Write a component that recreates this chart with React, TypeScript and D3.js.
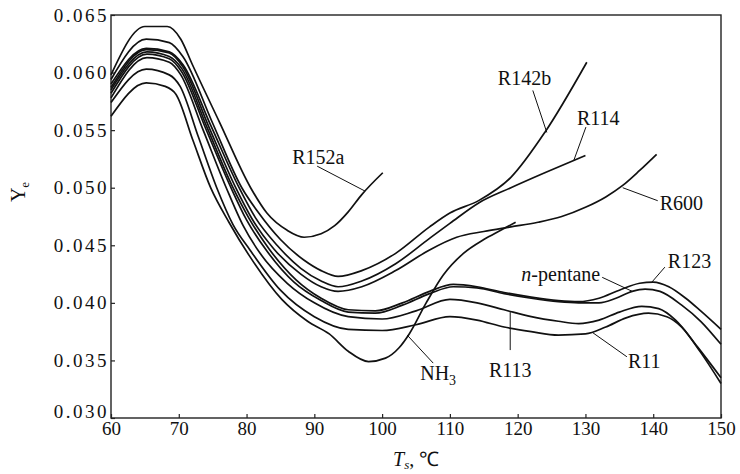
import { useEffect, useRef } from "react";
import * as d3 from "d3";

const W = 740;
const H = 474;
const margin = { top: 15, right: 19, bottom: 56, left: 111 };

const xTicks = [60, 70, 80, 90, 100, 110, 120, 130, 140, 150];
const yTicks = [0.03, 0.035, 0.04, 0.045, 0.05, 0.055, 0.06, 0.065];

// [T_s (°C), Y_e]
const r152a: [number, number][] = [
  [60, 0.0598], [65, 0.064], [68.3, 0.064], [70.3, 0.0629], [72, 0.0607], [76, 0.0557],
  [80.6, 0.05], [83, 0.0478], [86, 0.0463], [88.5, 0.0457], [91, 0.046], [93, 0.0467],
  [95, 0.0479], [97, 0.0494], [100.1, 0.0513],
];
const r142b: [number, number][] = [
  [60, 0.0594], [65.2, 0.0629], [68.6, 0.0626], [70.6, 0.0614], [75, 0.0556], [79.3, 0.05],
  [81.8, 0.0478], [85, 0.0455], [88.5, 0.0437], [91, 0.0428], [93.5, 0.0423], [97, 0.0428],
  [102, 0.0443], [107, 0.0466], [110, 0.0478], [114.3, 0.0489], [119, 0.0509], [124, 0.0548],
  [130.2, 0.0609],
];
const r114: [number, number][] = [
  [60, 0.059], [65.2, 0.0621], [68.6, 0.0618], [70.6, 0.0607], [74.8, 0.0553], [78.9, 0.05],
  [81.3, 0.0474], [84.5, 0.045], [88, 0.043], [91, 0.0419], [93.5, 0.0414], [97, 0.0419],
  [102, 0.0434], [107, 0.0456], [110, 0.0469], [114.3, 0.0487], [119, 0.05], [124, 0.0513],
  [130, 0.0528],
];
const r600: [number, number][] = [
  [60, 0.0587], [65.2, 0.062], [68.6, 0.0617], [70.6, 0.0605], [74.5, 0.0552], [78.4, 0.05],
  [80.8, 0.0473], [84, 0.0447], [88, 0.0425], [91, 0.0414], [93.5, 0.041], [97, 0.0414],
  [102, 0.0428], [107, 0.0446], [111, 0.0457], [115, 0.0462], [119, 0.0466], [123, 0.047],
  [126.5, 0.0475], [130, 0.0483], [133, 0.0492], [135.5, 0.0502], [138, 0.0515], [140.5, 0.0529],
];
const r123: [number, number][] = [
  [60, 0.0585], [65.3, 0.0618], [68.6, 0.0614], [70.5, 0.0603], [74.2, 0.0552], [78, 0.05],
  [80.3, 0.0474], [83.3, 0.0447], [87.3, 0.042], [91, 0.0404], [95, 0.0394], [99, 0.0393],
  [103, 0.04], [107, 0.041], [110.5, 0.0416], [114, 0.0414], [118, 0.0409], [122, 0.0405],
  [126, 0.0402], [129, 0.0401], [132, 0.0404], [135, 0.0411], [138, 0.0417], [140, 0.0418],
  [142.3, 0.0414], [144.8, 0.0404], [147, 0.0393], [150, 0.0377],
];
const nPentane: [number, number][] = [
  [60, 0.0582], [65.3, 0.0616], [68.6, 0.0612], [70.4, 0.0601], [74, 0.0551], [77.7, 0.05],
  [80, 0.0472], [83, 0.0445], [87, 0.0418], [91, 0.0402], [95, 0.0392], [99, 0.0391],
  [103, 0.0398], [107, 0.0408], [110.5, 0.0414], [114, 0.0413], [118, 0.0408], [122, 0.0404],
  [126, 0.0401], [129, 0.04], [132, 0.04], [134.5, 0.0404], [136.9, 0.041], [138.8, 0.0412],
  [141, 0.041], [144.2, 0.0398], [147, 0.0384], [150, 0.0364],
];
const r113: [number, number][] = [
  [60, 0.0578], [65.3, 0.0613], [68.6, 0.0609], [70.3, 0.0598], [73.6, 0.055], [77, 0.05],
  [79.5, 0.0467], [82, 0.0443], [86, 0.0417], [90, 0.04], [95, 0.0388], [100, 0.0386],
  [105, 0.0393], [110, 0.0403], [114, 0.04], [118, 0.0394], [122, 0.0388], [126, 0.0384],
  [129, 0.0382], [132, 0.0385], [135, 0.0392], [138.3, 0.0397], [140.8, 0.0395], [143.3, 0.0385],
  [146.5, 0.0362], [150, 0.0335],
];
const r11: [number, number][] = [
  [60, 0.0574], [65.2, 0.0603], [68.6, 0.0598], [70.2, 0.0588], [72.9, 0.0544], [75.6, 0.05],
  [78, 0.0468], [80.5, 0.0446], [85, 0.0411], [90, 0.0388], [95, 0.0377], [100, 0.0376],
  [105, 0.0381], [110, 0.0388], [114, 0.0385], [118, 0.0379], [122, 0.0375], [126, 0.0372],
  [130, 0.0373], [133, 0.0379], [136, 0.0387], [139.3, 0.0391], [142, 0.0388], [144.2, 0.0379],
  [147, 0.0357], [150, 0.033],
];
const nh3: [number, number][] = [
  [60, 0.0562], [65.2, 0.0591], [68, 0.0588], [69.6, 0.0581], [72.1, 0.0541], [74.7, 0.05],
  [77.4, 0.047], [80.4, 0.0441], [85.2, 0.0403], [89, 0.0384], [92.2, 0.0373], [95, 0.0358],
  [98, 0.0349], [100.5, 0.0352], [102.5, 0.0361], [104, 0.0373], [106.5, 0.04], [109, 0.0424],
  [112, 0.0443], [115, 0.0455], [117.5, 0.0463], [119.7, 0.047],
];

const series = [
  { name: "R152a", pts: r152a },
  { name: "R142b", pts: r142b },
  { name: "R114", pts: r114 },
  { name: "R600", pts: r600 },
  { name: "R123", pts: r123 },
  { name: "n-pentane", pts: nPentane },
  { name: "R113", pts: r113 },
  { name: "R11", pts: r11 },
  { name: "NH3", pts: nh3 },
];

// anchor on the curve (data units), leader end and text offset in px
const labels = [
  { name: "R152a", ax: 97.5, ay: 0.0497, ex: -48, ey: -25, tx: -73, ty: -27, anchor: "start" },
  { name: "R142b", ax: 124.3, ay: 0.0548, ex: -14, ey: -42, tx: -49, ty: -47, anchor: "start" },
  { name: "R114", ax: 128.3, ay: 0.0524, ex: 12, ey: -33, tx: 3, ty: -35, anchor: "start" },
  { name: "R600", ax: 135.5, ay: 0.05, ex: 35, ey: 13, tx: 37, ty: 22, anchor: "start" },
  { name: "n-pentane", ax: 136.9, ay: 0.041, ex: -30, ey: -14, tx: -32, ty: -10, anchor: "end" },
  { name: "R123", ax: 139.8, ay: 0.0418, ex: 13, ey: -15, tx: 16, ty: -14, anchor: "start" },
  { name: "R11", ax: 131.1, ay: 0.0374, ex: 34, ey: 24, tx: 35, ty: 35, anchor: "start" },
  { name: "R113", ax: 118.9, ay: 0.0392, ex: 0, ey: 38, tx: 0, ty: 65, anchor: "middle" },
  { name: "NH3", ax: 103.7, ay: 0.0372, ex: 26, ey: 28, tx: 13, ty: 45, anchor: "start" },
];

const serif = "Liberation Serif";

const LabelText = ({ name }: { name: string }) => {
  if (name === "NH3")
    return (
      <>
        NH<tspan fontSize={14} dy={5}>3</tspan>
      </>
    );
  if (name === "n-pentane")
    return (
      <>
        <tspan fontStyle="italic">n</tspan>-pentane
      </>
    );
  return <>{name}</>;
};

const App = () => {
  const xRef = useRef<SVGGElement>(null);
  const yRef = useRef<SVGGElement>(null);

  const x = d3.scaleLinear().domain([60, 150]).range([margin.left, W - margin.right]);
  const y = d3.scaleLinear().domain([0.03, 0.065]).range([H - margin.bottom, margin.top]);

  const line = d3
    .line<[number, number]>()
    .x((d) => x(d[0]))
    .y((d) => y(d[1]))
    .curve(d3.curveMonotoneX);

  useEffect(() => {
    const gx = d3.select(xRef.current!);
    gx.call(
      d3.axisBottom(x).tickValues(xTicks).tickSizeInner(-4).tickSizeOuter(0).tickPadding(3).tickFormat(d3.format("d"))
    );
    gx.select(".domain").remove();
    gx.selectAll("line").attr("stroke", "#222").attr("stroke-width", 1.2);
    gx.selectAll("text").attr("font-size", 19).attr("font-family", serif).attr("fill", "#111");

    const gy = d3.select(yRef.current!);
    gy.call(
      d3.axisLeft(y).tickValues(yTicks).tickSizeInner(-4).tickSizeOuter(0).tickPadding(2).tickFormat(d3.format(".3f"))
    );
    gy.select(".domain").remove();
    gy.selectAll("line").attr("stroke", "#222").attr("stroke-width", 1.2);
    gy.selectAll("text")
      .attr("font-size", 19)
      .attr("font-family", serif)
      .attr("letter-spacing", "2.5px")
      .attr("fill", "#111")
      // lowest label sits a little higher, clear of the x labels
      .attr("dy", (d) => ((d as number) === 0.03 ? "-0.05em" : "0.32em"));
  }, [x, y]);

  const x0 = margin.left;
  const x1 = W - margin.right;
  const y0 = H - margin.bottom;
  const y1 = margin.top;

  return (
    <svg width={W} height={H} style={{ position: "absolute", left: 0, top: 0, background: "#fff" }}>
      <rect x={x0} y={y1} width={x1 - x0} height={y0 - y1} fill="none" stroke="#222" strokeWidth={1.4} />
      <g ref={xRef} transform={`translate(0,${y0})`} />
      <g ref={yRef} transform={`translate(${x0},0)`} />

      <g fill="none" stroke="#111" strokeWidth={1.7} strokeLinejoin="round">
        {series.map((s) => (
          <path key={s.name} d={line(s.pts) ?? ""} />
        ))}
      </g>

      <g fontFamily={serif} fontSize={20} fill="#111">
        {labels.map((l) => {
          const px = x(l.ax);
          const py = y(l.ay);
          return (
            <g key={l.name}>
              <line x1={px} y1={py} x2={px + l.ex} y2={py + l.ey} stroke="#111" strokeWidth={1} />
              <text x={px + l.tx} y={py + l.ty} textAnchor={l.anchor as any}>
                <LabelText name={l.name} />
              </text>
            </g>
          );
        })}
      </g>

      <text transform="translate(25,192) rotate(-90)" textAnchor="middle" fontFamily={serif} fontSize={20} fill="#111">
        Y<tspan fontSize={13} dy={4}>e</tspan>
      </text>
      <text x={393} y={466} fontFamily={serif} fontSize={20} fill="#111">
        <tspan fontStyle="italic">T</tspan>
        <tspan fontSize={13} fontStyle="italic" dy={3}>s</tspan>
        <tspan dy={-3}>, ℃</tspan>
      </text>
    </svg>
  );
};

export default App;
